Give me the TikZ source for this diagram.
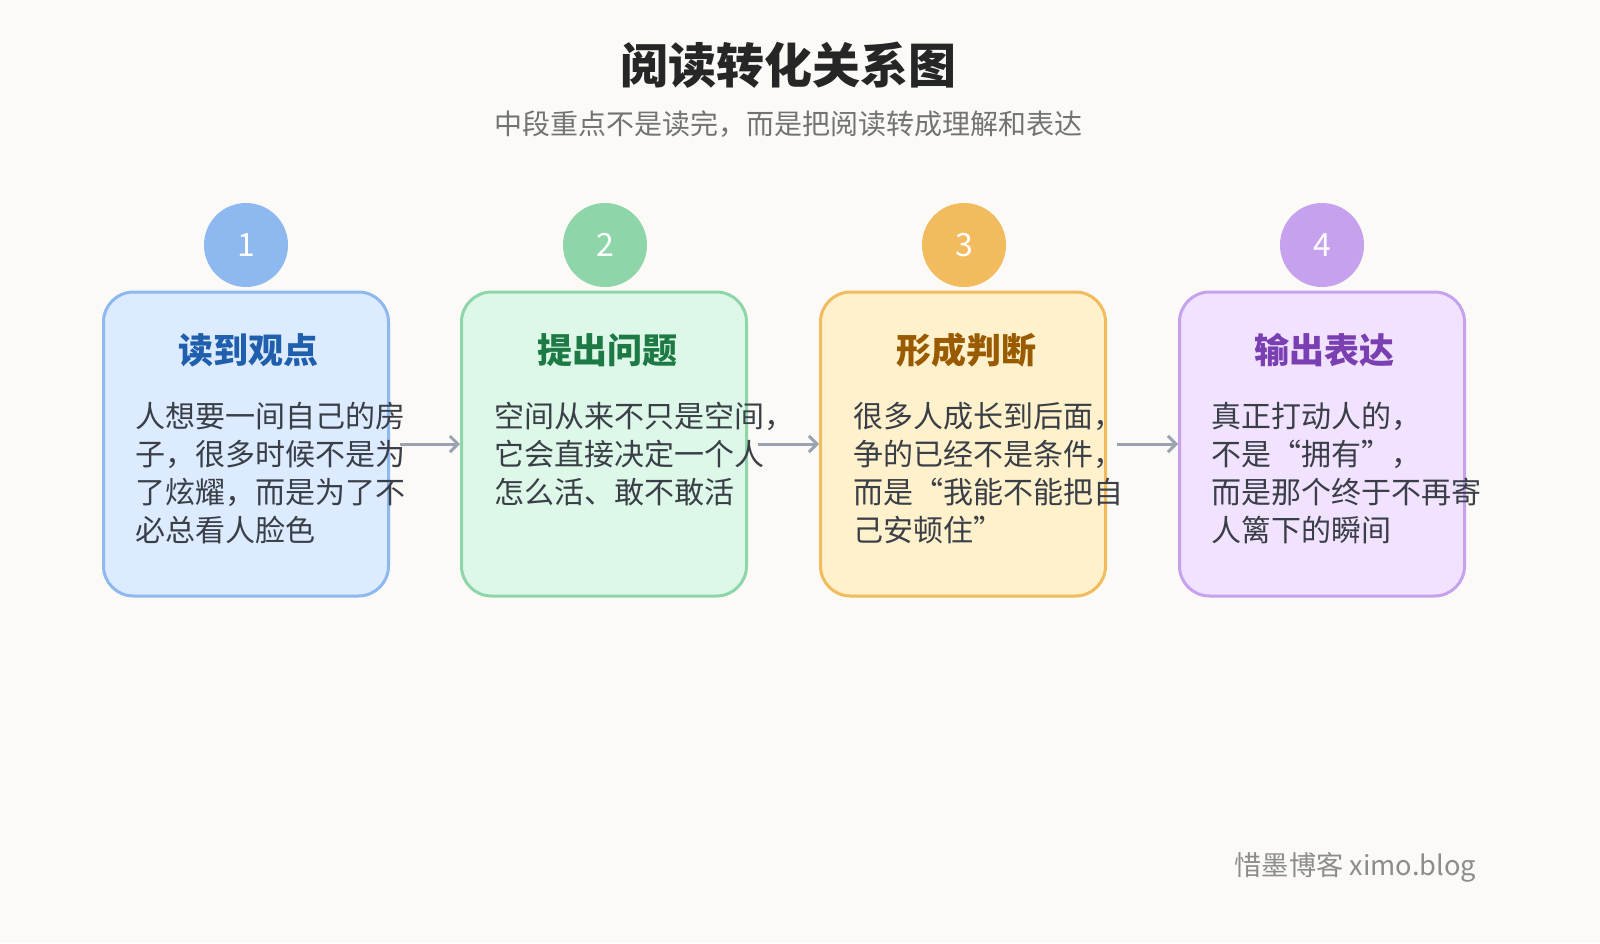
\documentclass[tikz,border=0pt]{standalone}
\usepackage{fontspec}
\setmainfont{Noto Sans CJK SC}
\usetikzlibrary{arrows.meta, positioning}
\definecolor{bg}{HTML}{FBFAF6}
\definecolor{fillA}{HTML}{DCEBFF}\definecolor{lineA}{HTML}{8DB8F0}\definecolor{headA}{HTML}{1F5FAD}
\definecolor{fillB}{HTML}{DDF7E8}\definecolor{lineB}{HTML}{8ED6AA}\definecolor{headB}{HTML}{1E7A45}
\definecolor{fillC}{HTML}{FFF1CC}\definecolor{lineC}{HTML}{F2BB5E}\definecolor{headC}{HTML}{9A5A00}
\definecolor{fillD}{HTML}{F1E2FF}\definecolor{lineD}{HTML}{C6A2EE}\definecolor{headD}{HTML}{7A3FB0}
\definecolor{bodytext}{HTML}{3A3F47}
\definecolor{arrowgray}{HTML}{9AA3B2}
\tikzset{
  card/.style={draw=#1, line width=1.5pt, rounded corners=15pt, minimum width=142.5pt, minimum height=152pt},
  badge/.style={circle, fill=#1, minimum size=42pt, inner sep=0pt, text=white, font=\fontsize{16}{16}\selectfont},
  head/.style={text=#1, font=\fontsize{17.5}{17.5}\selectfont\bfseries},
  body/.style={anchor=north west, align=left, text=bodytext, inner sep=0pt, font=\fontsize{15}{19}\selectfont},
  link/.style={-{Straight Barb[length=4pt,width=8pt]}, arrowgray, line width=1.5pt, shorten <=5pt}
}
\begin{document}
\begin{tikzpicture}[x=0.5pt, y=-0.5pt]
  \useasboundingbox[fill=bg] (0,0) rectangle (1600,943);
  % title
  \node[font=\fontsize{24}{24}\selectfont\bfseries, text=black!85] (title) at (788,65) {阅读转化关系图};
  \node[font=\fontsize{14}{14}\selectfont, text=black!55] (subtitle) at (788,124) {中段重点不是读完，而是把阅读转成理解和表达};

  % cards
  \node[card=lineA, fill=fillA] (card1) at (246,444) {};
  \node[card=lineB, fill=fillB] (card2) at (604,444) {};
  \node[card=lineC, fill=fillC] (card3) at (963,444) {};
  \node[card=lineD, fill=fillD] (card4) at (1322,444) {};

  % badges
  \node[badge=lineA] (num1) at (246,245) {1};
  \node[badge=lineB] (num2) at (605,245) {2};
  \node[badge=lineC] (num3) at (964,245) {3};
  \node[badge=lineD] (num4) at (1322,245) {4};

  % headings
  \node[head=headA] (head1) at (248,350) {读到观点};
  \node[head=headB] (head2) at (607,350) {提出问题};
  \node[head=headC] (head3) at (966,350) {形成判断};
  \node[head=headD] (head4) at (1324,350) {输出表达};

  % texts
  \node[body] (text1) at (135,402) {人想要一间自己的房\\子，很多时候不是为\\了炫耀，而是为了不\\必总看人脸色};
  \node[body] (text2) at (494,402) {空间从来不只是空间，\\它会直接决定一个人\\怎么活、敢不敢活};
  \node[body] (text3) at (853,402) {很多人成长到后面，\\争的已经不是条件，\\而是“我能不能把自\\己安顿住”};
  \node[body] (text4) at (1211,402) {真正打动人的，\\不是“拥有”，\\而是那个终于不再寄\\人篱下的瞬间};

  % links
  \draw[link] (card1) -- (card2);
  \draw[link] (card2) -- (card3);
  \draw[link] (card3) -- (card4);

  % footer
  \node[anchor=east, text=black!45, font=\fontsize{13.6}{13.6}\selectfont] (footer) at (1483,867) {惜墨博客 ximo.blog};
\end{tikzpicture}
\end{document}
